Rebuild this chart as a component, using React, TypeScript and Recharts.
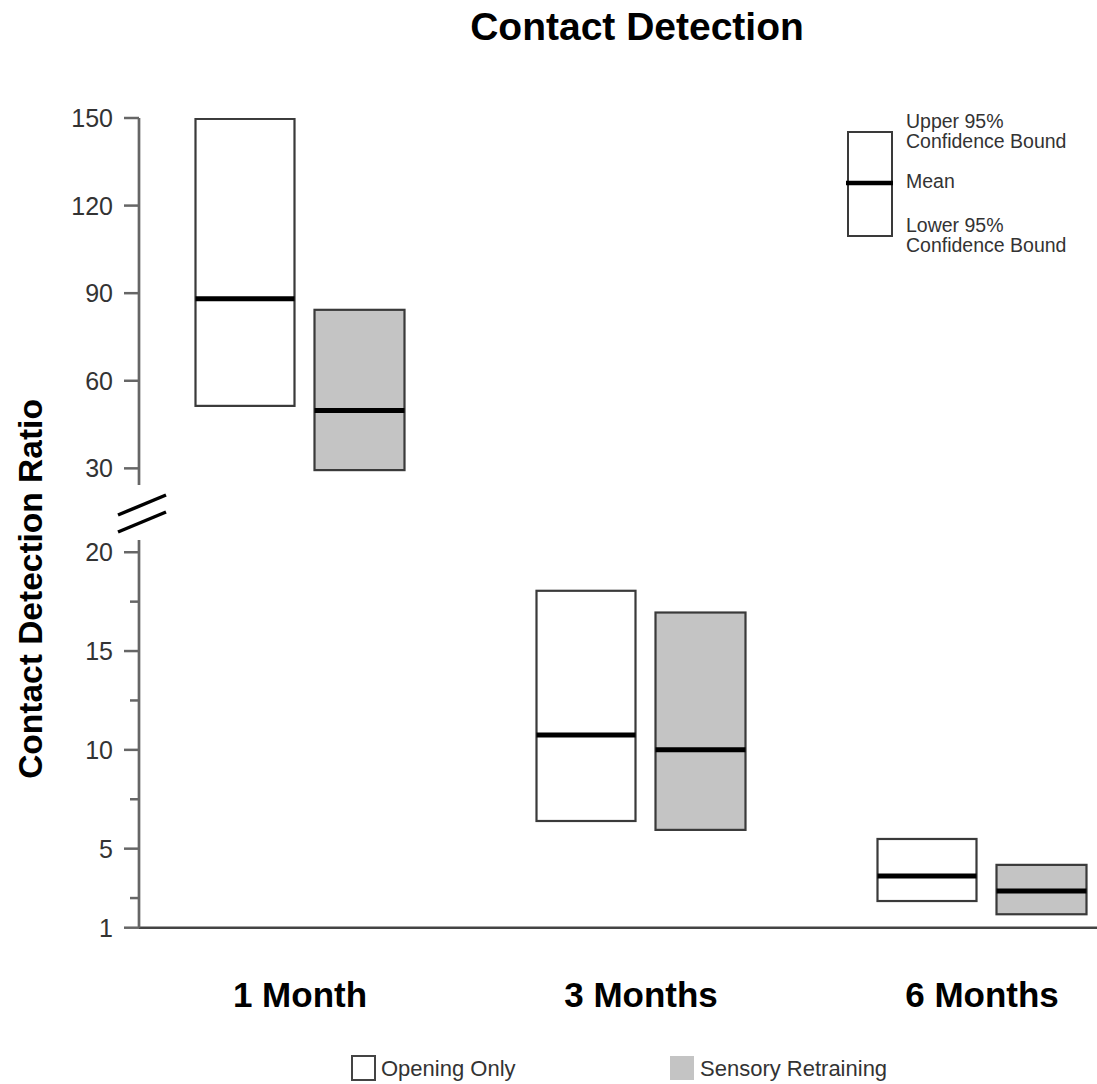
import { ComposedChart, Bar, XAxis, YAxis } from 'recharts';

const CATEGORIES = ['1 Month', '3 Months', '6 Months'];

const OPENING_LOW = [51.4, 6.4, 2.35];
const OPENING_MEAN = [88.1, 10.75, 3.62];
const OPENING_HIGH = [149.7, 18.05, 5.49];

const SENSORY_LOW = [29.4, 5.95, 1.68];
const SENSORY_MEAN = [49.8, 10.0, 2.86];
const SENSORY_HIGH = [84.3, 16.95, 4.18];

const UPPER_TICKS = [30, 60, 90, 120, 150];
const LOWER_TICKS = [1, 5, 10, 15, 20];
const LOWER_MINOR_TICKS = [2.5, 7.5, 12.5, 17.5];

// values above this go in the top panel (axis is broken between 20 and 30)
const BREAK_AT = 25;

const FONT = "'Liberation Sans', Arial, sans-serif";
const AXIS_GRAY = '#666';

const buildRows = (upper: boolean) =>
  CATEGORIES.map((name, i) => {
    const inPanel = (hi: number) => hi > BREAK_AT === upper;
    return {
      name,
      opening: inPanel(OPENING_HIGH[i]) ? [OPENING_LOW[i], OPENING_HIGH[i]] : null,
      openingMean: OPENING_MEAN[i],
      sensory: inPanel(SENSORY_HIGH[i]) ? [SENSORY_LOW[i], SENSORY_HIGH[i]] : null,
      sensoryMean: SENSORY_MEAN[i],
    };
  });

const upperRows = buildRows(true);
const lowerRows = buildRows(false);

const boxShape = (fill: string, rangeKey: 'opening' | 'sensory', meanKey: 'openingMean' | 'sensoryMean') =>
  (props: any) => {
    const { x, width, payload } = props;
    let { y, height } = props;
    const range = payload?.[rangeKey];
    if (!range || !height) return <g />;
    if (height < 0) {
      y += height;
      height = -height;
    }
    const [lo, hi] = range;
    const my = y + (height * (hi - payload[meanKey])) / (hi - lo);
    return (
      <g>
        <rect x={x} y={y} width={width} height={height} fill={fill} stroke="#3a3a3a" strokeWidth={2.2} />
        <line x1={x} x2={x + width} y1={my} y2={my} stroke="#000" strokeWidth={5} />
      </g>
    );
  };

const yTick = (props: any) => {
  const { x, y, payload } = props;
  const minor = LOWER_MINOR_TICKS.includes(payload.value);
  return (
    <g>
      <line x1={x - (minor ? 9 : 15)} x2={x} y1={y} y2={y} stroke={AXIS_GRAY} strokeWidth={2.5} />
      {!minor && (
        <text x={x - 26} y={y} textAnchor="end" dominantBaseline="central" fontSize={25} fill="#333" fontFamily={FONT}>
          {payload.value}
        </text>
      )}
    </g>
  );
};

const xTick = (props: any) => {
  const { x, y, payload } = props;
  return (
    <text x={x} y={y + 79} textAnchor="middle" fontSize={35} fontWeight="bold" fill="#000" fontFamily={FONT}>
      {payload.value}
    </text>
  );
};

const xPadding = { left: -9.5, right: -55.5 };

export default function App() {
  return (
    <div style={{ position: 'absolute', left: 0, top: 0, width: 1097, height: 1084, background: '#fff' }}>
      <div style={{ position: 'absolute', left: 0, top: 0 }}>
        <ComposedChart width={1097} height={500} data={upperRows} barGap={20} margin={{ top: 118, right: 0, bottom: 15, left: 0 }}>
          <XAxis dataKey="name" hide padding={xPadding} />
          <YAxis
            width={139}
            type="number"
            domain={[24.3, 150]}
            ticks={UPPER_TICKS}
            interval={0}
            allowDataOverflow
            tickSize={0}
            tickMargin={0}
            tickLine={false}
            tick={yTick}
            axisLine={{ stroke: AXIS_GRAY, strokeWidth: 2.7 }}
          />
          <Bar dataKey="opening" barSize={99} shape={boxShape('#fff', 'opening', 'openingMean')} isAnimationActive={false} />
          <Bar dataKey="sensory" barSize={90} shape={boxShape('#c4c4c4', 'sensory', 'sensoryMean')} isAnimationActive={false} />
        </ComposedChart>
      </div>
      <div style={{ position: 'absolute', left: 0, top: 500 }}>
        <ComposedChart width={1097} height={584} data={lowerRows} barGap={20} margin={{ top: 40, right: 0, bottom: 56.3, left: 0 }}>
          <XAxis
            dataKey="name"
            height={100}
            padding={xPadding}
            tickSize={0}
            tickMargin={0}
            tickLine={false}
            tick={xTick}
            axisLine={{ stroke: '#444', strokeWidth: 2.5 }}
          />
          <YAxis
            width={139}
            type="number"
            domain={[1, 20.62]}
            ticks={[...LOWER_TICKS, ...LOWER_MINOR_TICKS].sort((a, b) => a - b)}
            interval={0}
            allowDataOverflow
            tickSize={0}
            tickMargin={0}
            tickLine={false}
            tick={yTick}
            axisLine={{ stroke: AXIS_GRAY, strokeWidth: 2.7 }}
          />
          <Bar dataKey="opening" barSize={99} shape={boxShape('#fff', 'opening', 'openingMean')} isAnimationActive={false} />
          <Bar dataKey="sensory" barSize={90} shape={boxShape('#c4c4c4', 'sensory', 'sensoryMean')} isAnimationActive={false} />
        </ComposedChart>
      </div>
      <svg width={1097} height={1084} style={{ position: 'absolute', left: 0, top: 0, pointerEvents: 'none' }} fontFamily={FONT}>
        <text x={637} y={40} textAnchor="middle" fontSize={39} fontWeight="bold" fill="#000">
          Contact Detection
        </text>
        <text transform="translate(42,589) rotate(-90)" textAnchor="middle" fontSize={33.5} fontWeight="bold" fill="#000">
          Contact Detection Ratio
        </text>
        {/* axis break marks */}
        <line x1={118} y1={515} x2={166} y2={495} stroke="#000" strokeWidth={3.5} />
        <line x1={118} y1={532} x2={166} y2={512} stroke="#000" strokeWidth={3.5} />
        {/* inset key */}
        <rect x={848} y={132} width={44} height={104} fill="#fff" stroke="#3a3a3a" strokeWidth={2} />
        <line x1={846} x2={893} y1={183} y2={183} stroke="#000" strokeWidth={4.5} />
        <g fontSize={19.5} fill="#333">
          <text x={906} y={128}>Upper 95%</text>
          <text x={906} y={148}>Confidence Bound</text>
          <text x={906} y={188}>Mean</text>
          <text x={906} y={232}>Lower 95%</text>
          <text x={906} y={252}>Confidence Bound</text>
        </g>
        {/* bottom legend */}
        <rect x={352} y={1056} width={23} height={24} fill="#fff" stroke="#444" strokeWidth={2} />
        <text x={381} y={1076} fontSize={22} fill="#333">Opening Only</text>
        <rect x={670} y={1056} width={24} height={24} fill="#c4c4c4" />
        <text x={700} y={1076} fontSize={22} fill="#333">Sensory Retraining</text>
      </svg>
    </div>
  );
}
